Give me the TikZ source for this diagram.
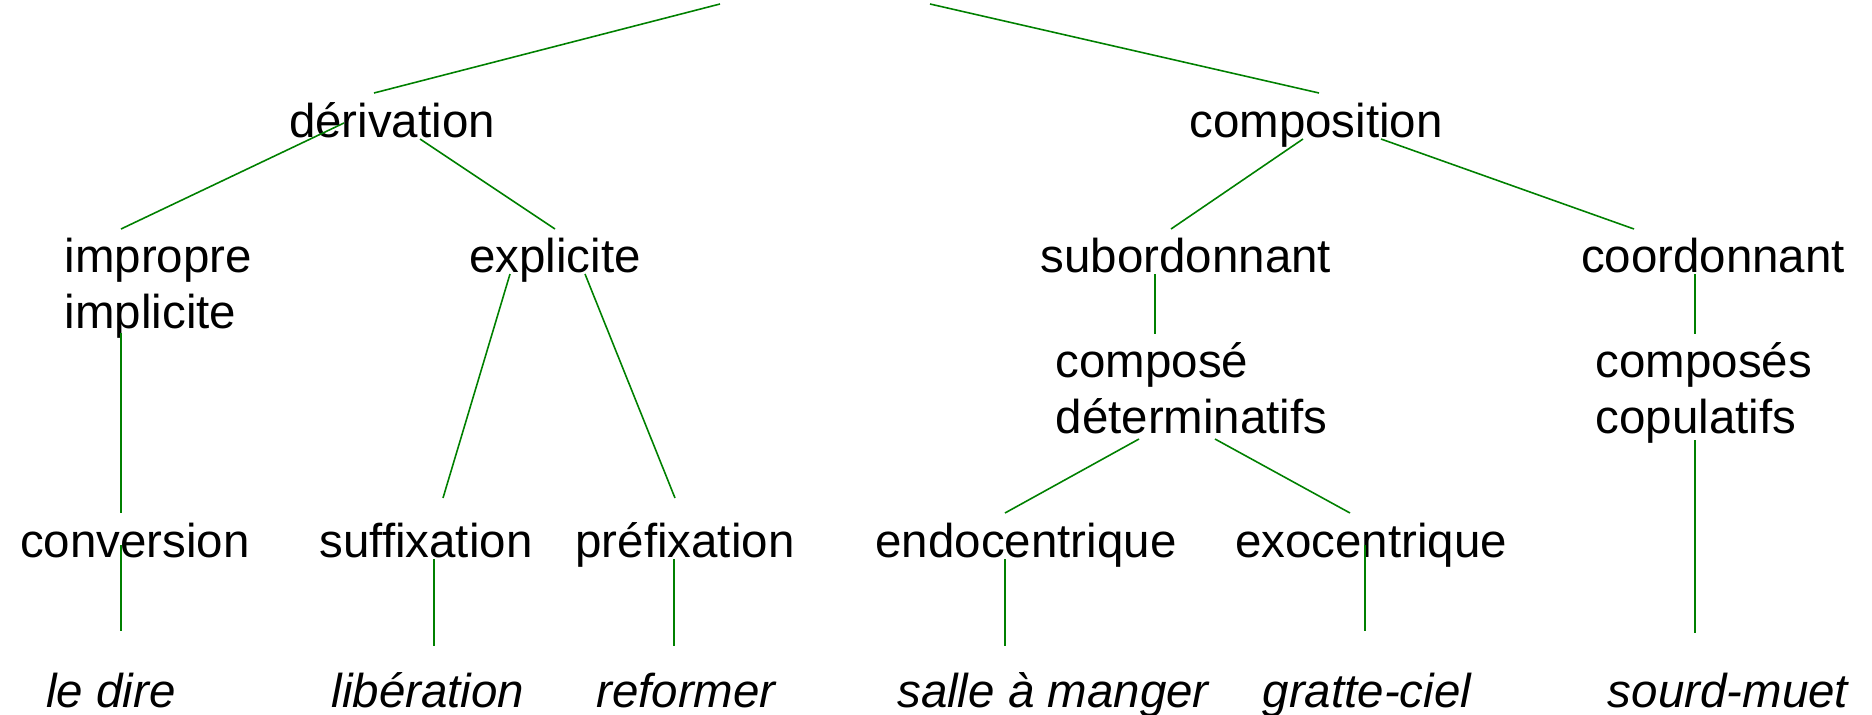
\documentclass[tikz,border=0pt]{standalone}
\usepackage{fontspec}
\setmainfont{Liberation Sans}
\usepackage{tikz}
\definecolor{treegreen}{RGB}{0,128,0}

\begin{document}
\begin{tikzpicture}[
  x=0.01cm, y=-0.01cm,
  every node/.style={inner sep=0pt, font=\fontsize{13.5}{15.9}\selectfont},
  term/.style={anchor=base},
  pair/.style={anchor=base west, align=left},
  example/.style={anchor=base, font=\fontsize{13.5}{15.9}\selectfont\itshape},
  branch/.style={draw=treegreen, line width=0.45pt}
]
\useasboundingbox (0,0) rectangle (1872,715);

\coordinate (rootL) at (720,4);
\coordinate (rootR) at (930,4);

\node[term] (derivation) at (392,137) {dérivation};
\node[term] (composition) at (1316,137) {composition};

\node[pair] (impropre) at (64,328) {impropre\\implicite};
\node[term] (explicite) at (555,272) {explicite};
\node[term] (subordonnant) at (1186,272) {subordonnant};
\node[term] (coordonnant) at (1713,272) {coordonnant};

\node[pair] (determinatif) at (1055,433) {composé\\déterminatifs};
\node[pair] (copulatif) at (1595,433) {composés\\copulatifs};

\node[term] (conversion) at (135,557) {conversion};
\node[term] (suffixation) at (426,557) {suffixation};
\node[term] (prefixation) at (685,557) {préfixation};
\node[term] (endocentrique) at (1026,557) {endocentrique};
\node[term] (exocentrique) at (1371,557) {exocentrique};

\node[example] (ledire) at (111,707) {le dire};
\node[example] (liberation) at (428,707) {libération};
\node[example] (reformer) at (686,707) {reformer};
\node[example] (salle) at (1053,707) {salle à manger};
\node[example] (gratte) at (1367,707) {gratte-ciel};
\node[example] (sourd) at (1728,707) {sourd-muet};

\draw[branch] (rootL) -- ([shift={(-18,-44)}]derivation.base);
\draw[branch] (rootR) -- ([shift={(3,-44)}]composition.base);

\draw[branch] ([shift={(-48,-14)}]derivation.base) -- ([shift={(57,-99)}]impropre.base west);
\draw[branch] ([shift={(28,2)}]derivation.base) -- ([shift={(0,-43)}]explicite.base);
\draw[branch] ([shift={(-13,2)}]composition.base) -- ([shift={(-15,-43)}]subordonnant.base);
\draw[branch] ([shift={(65,2)}]composition.base) -- ([shift={(-79,-43)}]coordonnant.base);

\draw[branch] ([shift={(57,5)}]impropre.base west) -- ([shift={(-14,-44)}]conversion.base);
\draw[branch] ([shift={(-45,2)}]explicite.base) -- ([shift={(17,-59)}]suffixation.base);
\draw[branch] ([shift={(30,2)}]explicite.base) -- ([shift={(-10,-59)}]prefixation.base);
\draw[branch] ([shift={(-31,2)}]subordonnant.base) -- ([shift={(100,-99)}]determinatif.base west);
\draw[branch] ([shift={(-18,2)}]coordonnant.base) -- ([shift={(100,-99)}]copulatif.base west);
\draw[branch] ([shift={(84,6)}]determinatif.base west) -- ([shift={(-21,-44)}]endocentrique.base);
\draw[branch] ([shift={(160,6)}]determinatif.base west) -- ([shift={(-21,-44)}]exocentrique.base);

\draw[branch] ([shift={(-14,-12)}]conversion.base) -- ([shift={(10,-76)}]ledire.base);
\draw[branch] ([shift={(8,2)}]suffixation.base) -- ([shift={(6,-61)}]liberation.base);
\draw[branch] ([shift={(-11,2)}]prefixation.base) -- ([shift={(-12,-61)}]reformer.base);
\draw[branch] ([shift={(-21,2)}]endocentrique.base) -- ([shift={(-48,-61)}]salle.base);
\draw[branch] ([shift={(-6,-12)}]exocentrique.base) -- ([shift={(-2,-76)}]gratte.base);
\draw[branch] ([shift={(100,7)}]copulatif.base west) -- ([shift={(-33,-74)}]sourd.base);
\end{tikzpicture}
\end{document}
